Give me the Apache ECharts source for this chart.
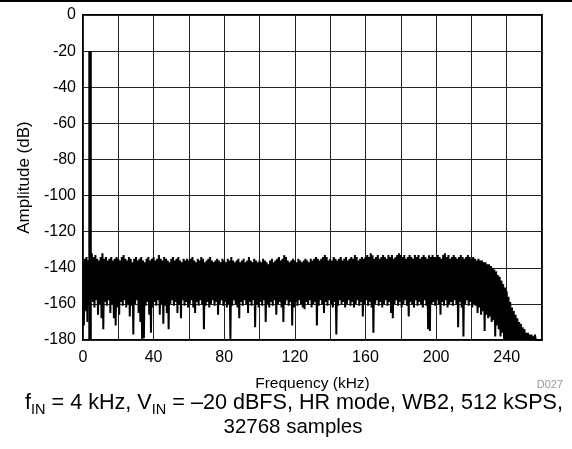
<!DOCTYPE html>
<html>
<head>
<meta charset="utf-8">
<script src="https://cdn.jsdelivr.net/npm/echarts@6/dist/echarts.min.js"></script>
<style>
  html, body { margin: 0; padding: 0; background: #fff; }
  #chart { width: 572px; height: 449px; }
</style>
</head>
<body>
<div id="chart"></div>
<script>
// FFT spectrum, one bin per kHz: peak level and dip level of the noise in each bin
const binStartKhz = 0
const binStepKhz = 1
const noiseTop = [
  -137, -135, -134, -136, -133, -132, -134, -133, -135, -136, -134, -132, -135, -134, -136, -135, -134, -136, -135, -134,
  -135, -136, -134, -133, -135, -136, -134, -135, -137, -135, -134, -136, -135, -134, -136, -137, -135, -134, -136, -135,
  -134, -136, -135, -133, -135, -136, -134, -135, -136, -137, -135, -134, -136, -135, -134, -136, -137, -135, -136, -135,
  -136, -135, -134, -136, -137, -135, -136, -134, -135, -137, -136, -135, -134, -136, -137, -136, -135, -136, -137, -135,
  -136, -137, -135, -136, -134, -136, -137, -136, -135, -137, -136, -135, -137, -136, -134, -136, -137, -135, -136, -137,
  -136, -137, -135, -136, -137, -138, -136, -135, -137, -136, -135, -134, -136, -135, -133, -134, -136, -137, -136, -135,
  -136, -137, -135, -136, -137, -136, -135, -136, -137, -135, -136, -135, -134, -135, -136, -135, -134, -133, -134, -136,
  -135, -136, -134, -135, -136, -135, -134, -136, -135, -134, -136, -135, -134, -135, -133, -134, -136, -135, -134, -135,
  -134, -133, -134, -132, -133, -135, -134, -133, -135, -134, -133, -134, -135, -133, -134, -133, -135, -134, -133, -132,
  -133, -134, -133, -135, -134, -133, -134, -135, -133, -134, -133, -135, -134, -133, -134, -135, -133, -134, -133, -134,
  -134, -133, -134, -135, -133, -132, -134, -133, -135, -134, -133, -134, -135, -134, -133, -134, -135, -134, -133, -134,
  -135, -134, -135, -136, -135, -136, -136, -137, -137, -138, -138, -139, -140, -141, -142, -144, -145, -147, -149, -151,
  -153, -156, -159, -162, -164, -166, -168, -170, -171, -173, -174, -176, -176, -177, -177, -178, -177, -179, -180, -180,
  -180
]
const noiseLow = [
  -172, -164, -170, -160, -158, -159, -162, -158, -166, -160, -168, -174, -159, -161, -158, -165, -160, -168, -172, -162,
  -166, -159, -161, -158, -162, -160, -167, -161, -177, -160, -158, -165, -170, -180, -179, -161, -159, -166, -176, -162,
  -159, -161, -158, -166, -160, -171, -161, -165, -174, -160, -158, -161, -159, -165, -160, -168, -158, -161, -159, -162,
  -160, -158, -162, -165, -159, -161, -158, -160, -174, -161, -159, -162, -160, -158, -161, -159, -166, -160, -158, -161,
  -159, -162, -160, -180, -161, -158, -160, -162, -168, -159, -161, -158, -160, -165, -159, -161, -158, -173, -160, -162,
  -159, -161, -158, -170, -160, -162, -159, -161, -158, -166, -160, -159, -162, -170, -160, -158, -161, -159, -172, -162,
  -159, -161, -158, -160, -162, -163, -159, -160, -158, -162, -160, -159, -172, -161, -158, -160, -165, -159, -161, -158,
  -160, -162, -159, -177, -161, -158, -160, -159, -162, -160, -158, -161, -159, -162, -160, -158, -161, -159, -167, -160,
  -158, -161, -159, -162, -176, -160, -158, -161, -159, -162, -160, -158, -161, -159, -165, -168, -160, -158, -161, -159,
  -162, -160, -158, -161, -167, -159, -160, -162, -158, -161, -159, -160, -162, -158, -161, -174, -175, -160, -159, -161,
  -158, -160, -166, -159, -161, -158, -162, -160, -159, -161, -158, -160, -173, -159, -162, -178, -160, -158, -161, -159,
  -162, -160, -161, -165, -162, -166, -164, -175, -166, -168, -167, -170, -169, -178, -172, -174, -178, -176, -180, -180,
  -180, -180, -180, -180, -180, -180, -180, -180, -180, -180, -180, -180, -180, -180, -180, -180, -180, -180, -180, -180,
  -180
]
// input tone
const toneKhz = [4]
const toneDb = [-20]

const xTicks = [0, 40, 80, 120, 160, 200, 240]
const yMin = -180, yMax = 0, yStep = 20
const xMin = 0, xMax = 260, xStep = 20

// each bin drawn as peak then dip, so the trace fills like the FFT plot
const spectrum = []
noiseTop.forEach(function (v, i) {
  const f = binStartKhz + i * binStepKhz
  spectrum.push([f, v])
  if (f + binStepKhz / 2 <= xMax) spectrum.push([f + binStepKhz / 2, noiseLow[i]])
})
const toneLines = []
toneKhz.forEach(function (f, i) {
  toneLines.push([f, yMin], [f, toneDb[i]], null)
})

const font = "'Liberation Sans', Arial, sans-serif"
const chart = echarts.init(document.getElementById('chart'), null, { renderer: 'canvas' })
chart.setOption({
  animation: false,
  backgroundColor: '#fff',
  grid: { left: 83, top: 15, right: 30, bottom: 109, show: true, borderColor: '#000', borderWidth: 2 },
  xAxis: {
    type: 'value', min: xMin, max: xMax, interval: xStep,
    name: 'Frequency (kHz)', nameLocation: 'middle', nameGap: 36,
    nameTextStyle: { fontFamily: font, fontSize: 15.5, color: '#000' },
    axisLine: { show: false }, axisTick: { show: false },
    axisLabel: {
      margin: 10, fontFamily: font, fontSize: 16, color: '#000',
      formatter: function (v) { return xTicks.indexOf(v) >= 0 ? String(v) : '' }
    },
    splitLine: { show: true, lineStyle: { color: '#222', width: 1 } }
  },
  yAxis: {
    type: 'value', min: yMin, max: yMax, interval: yStep,
    name: 'Amplitude (dB)', nameLocation: 'middle', nameGap: 50,
    nameTextStyle: { fontFamily: font, fontSize: 17, color: '#000' },
    axisLine: { show: false }, axisTick: { show: false },
    axisLabel: { margin: 7, fontFamily: font, fontSize: 16, color: '#000' },
    splitLine: { show: true, lineStyle: { color: '#222', width: 1 } }
  },
  series: [
    {
      type: 'line', data: spectrum, showSymbol: false, sampling: null,
      lineStyle: { color: '#000', width: 2, join: 'bevel' }, z: 3
    },
    {
      type: 'line', data: toneLines, showSymbol: false, connectNulls: false,
      lineStyle: { color: '#000', width: 3.5 }, z: 4
    }
  ],
  graphic: [
    { type: 'rect', left: 0, top: 0, shape: { width: 572, height: 2 }, style: { fill: '#000' } },
    {
      type: 'text', right: 9, top: 379,
      style: { text: 'D027', fontFamily: font, fontSize: 11, fill: '#999' }
    },
    {
      type: 'text', x: 294, y: 392,
      style: {
        text: '{n|f}{s|IN}{n| = 4 kHz, V}{s|IN}{n| = \u201320 dBFS, HR mode, WB2, 512 kSPS,}',
        align: 'center',
        rich: {
          n: { fontFamily: font, fontSize: 21.6, lineHeight: 25, verticalAlign: 'top', fill: '#000' },
          s: { fontFamily: font, fontSize: 14.5, lineHeight: 14, verticalAlign: 'bottom', fill: '#000' }
        }
      }
    },
    {
      type: 'text', x: 293, y: 417,
      style: { text: '32768 samples', align: 'center', fontFamily: font, fontSize: 20.5, fill: '#000' }
    }
  ]
})
</script>
</body>
</html>
